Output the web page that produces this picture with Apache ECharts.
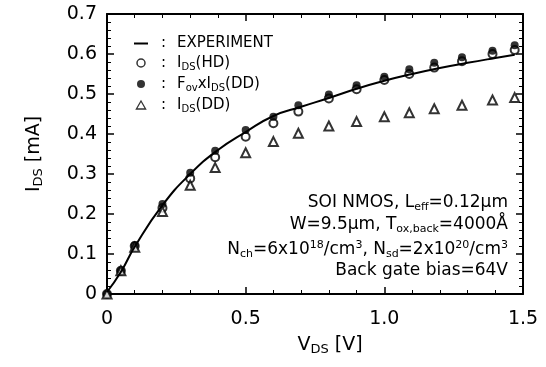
<!DOCTYPE html>
<html>
<head>
<meta charset="utf-8">
<script src="https://cdn.jsdelivr.net/npm/echarts@6/dist/echarts.min.js"></script>
<style>
  html, body { margin: 0; padding: 0; background: #fff; }
  #chart { width: 546px; height: 367px; }
</style>
</head>
<body>
<div id="chart"></div>
<script>
// values: V_DS [V] vs I_DS [mA]
var vdsPoints = [0, 0.05, 0.1, 0.2, 0.3, 0.39, 0.5, 0.6, 0.69, 0.8, 0.9, 1.0, 1.09, 1.18, 1.28, 1.39, 1.47];
var idsHD = [0, 0.058, 0.12, 0.215, 0.289, 0.342, 0.393, 0.427, 0.456, 0.489, 0.512, 0.535, 0.55, 0.566, 0.582, 0.6, 0.61];
var idsFov = [0, 0.058, 0.122, 0.225, 0.303, 0.358, 0.41, 0.443, 0.472, 0.499, 0.522, 0.543, 0.562, 0.578, 0.592, 0.608, 0.622];
var idsDD = [0, 0.058, 0.117, 0.206, 0.272, 0.316, 0.353, 0.381, 0.402, 0.42, 0.431, 0.443, 0.453, 0.463, 0.472, 0.485, 0.491];

var vdsExp = [0, 0.05, 0.1, 0.2, 0.3, 0.4, 0.5, 0.6, 0.7, 0.8, 0.9, 1.0, 1.1, 1.2, 1.3, 1.4, 1.47];
var idsExp = [0.005, 0.055, 0.118, 0.222, 0.3, 0.36, 0.405, 0.445, 0.468, 0.49, 0.513, 0.533, 0.55, 0.565, 0.578, 0.59, 0.598];

var xTicks = ["0", "0.5", "1.0", "1.5"];

function pairs(xs, ys) {
  return xs.map(function (x, i) { return [x, ys[i]]; });
}

// rich text styles: b = normal, s = subscript, u = superscript
function richSet(size, small, lh) {
  return {
    b: { fontFamily: "DejaVu Sans", fontSize: size, lineHeight: lh, color: "#000" },
    c: { fontFamily: "DejaVu Sans", fontSize: size, lineHeight: lh, color: "#000", padding: [0, 11, 0, 8] },
    s: { fontFamily: "DejaVu Sans", fontSize: small, lineHeight: small, verticalAlign: "bottom", color: "#000" },
    u: { fontFamily: "DejaVu Sans", fontSize: small, lineHeight: small, verticalAlign: "top", color: "#000" }
  };
}
var legendRich = richSet(15, 10, 18);
var noteRich = richSet(17, 11, 20);
var axisRich = richSet(19, 13, 22);

var legendText = {
  "EXPERIMENT": "{c|:}{b|EXPERIMENT}",
  "HD": "{c|:}{b|I}{s|DS}{b|(HD)}",
  "FOV": "{c|:}{b|F}{s|ov}{b|xI}{s|DS}{b|(DD)}",
  "DD": "{c|:}{b|I}{s|DS}{b|(DD)}"
};

var chart = echarts.init(document.getElementById("chart"));

var frameLine = { show: true, onZero: false, lineStyle: { color: "#000", width: 2 } };
var majorTick = { inside: true, length: 7, lineStyle: { color: "#000", width: 1.5 } };
var minorTick = { show: true, splitNumber: 5, length: 4, lineStyle: { color: "#000", width: 1 } };

var option = {
  animation: false,
  backgroundColor: "#fff",
  grid: { left: 107, right: 23, top: 14, bottom: 73 },
  legend: {
    orient: "vertical",
    left: 129,
    top: 31,
    itemWidth: 14,
    itemHeight: 8,
    itemGap: 4.5,
    data: [
      { name: "EXPERIMENT", icon: "path://M0,0H14V2H0Z" },
      { name: "HD", icon: "circle", itemStyle: { color: "#fff", borderColor: "#000", borderWidth: 1.5 } },
      { name: "FOV", icon: "circle" },
      { name: "DD", icon: "path://M5,0L10,8.66L0,8.66Z", itemStyle: { color: "#fff", borderColor: "#000", borderWidth: 1.3 } }
    ],
    formatter: function (name) { return legendText[name]; },
    textStyle: { rich: legendRich }
  },
  xAxis: [
    {
      type: "value", min: 0, max: 1.5, interval: 0.5,
      name: "{b|V}{s|DS}{b| [V]}",
      nameLocation: "middle", nameGap: 40,
      nameTextStyle: { rich: axisRich, padding: [0, 0, 0, 30] },
      axisLine: frameLine,
      axisTick: majorTick,
      minorTick: minorTick,
      axisLabel: {
        margin: 16, color: "#000", fontFamily: "DejaVu Sans", fontSize: 19,
        formatter: function (v) { return xTicks[Math.round(v / 0.5)]; }
      },
      splitLine: { show: false }
    },
    {
      type: "value", min: 0, max: 1.5, interval: 0.5, position: "top",
      axisLine: frameLine,
      axisTick: majorTick,
      minorTick: minorTick,
      axisLabel: { show: false },
      splitLine: { show: false }
    }
  ],
  yAxis: [
    {
      type: "value", min: 0, max: 0.7, interval: 0.1,
      name: "{b|I}{s|DS}{b| [mA]}",
      nameLocation: "middle", nameGap: 62, nameRotate: 90,
      nameTextStyle: { rich: axisRich },
      axisLine: frameLine,
      axisTick: majorTick,
      minorTick: minorTick,
      axisLabel: {
        margin: 10, color: "#000", fontFamily: "DejaVu Sans", fontSize: 19,
        formatter: function (v) { return v === 0 ? "0" : v.toFixed(1); }
      },
      splitLine: { show: false }
    },
    {
      type: "value", min: 0, max: 0.7, interval: 0.1, position: "right",
      axisLine: frameLine,
      axisTick: majorTick,
      minorTick: minorTick,
      axisLabel: { show: false },
      splitLine: { show: false }
    }
  ],
  graphic: [
    { type: "text", right: 38, top: 194, style: { text: "{b|SOI NMOS, L}{s|eff}{b|=0.12\u00b5m}", rich: noteRich } },
    { type: "text", right: 38, top: 216, style: { text: "{b|W=9.5\u00b5m, T}{s|ox,back}{b|=4000\u00c5}", rich: noteRich } },
    { type: "text", right: 38, top: 240, style: { text: "{b|N}{s|ch}{b|=6x10}{u|18}{b|/cm}{u|3}{b|, N}{s|sd}{b|=2x10}{u|20}{b|/cm}{u|3}", rich: noteRich } },
    { type: "text", right: 38, top: 262, style: { text: "{b|Back gate bias=64V}", rich: noteRich } }
  ],
  series: [
    {
      name: "EXPERIMENT", type: "line", smooth: true, symbol: "none",
      data: pairs(vdsExp, idsExp),
      lineStyle: { color: "#000", width: 2 },
      itemStyle: { color: "#000" }
    },
    {
      name: "HD", type: "scatter", symbol: "emptyCircle", symbolSize: 8,
      data: pairs(vdsPoints, idsHD),
      itemStyle: { color: "#000", borderColor: "#000", borderWidth: 1.5 }
    },
    {
      name: "FOV", type: "scatter", symbol: "circle", symbolSize: 8,
      data: pairs(vdsPoints, idsFov),
      itemStyle: { color: "#000" }
    },
    {
      name: "DD", type: "scatter", symbol: "emptyTriangle", symbolSize: 9,
      data: pairs(vdsPoints, idsDD),
      itemStyle: { color: "#000", borderColor: "#000", borderWidth: 1.2 }
    }
  ]
};

chart.setOption(option);
</script>
</body>
</html>
